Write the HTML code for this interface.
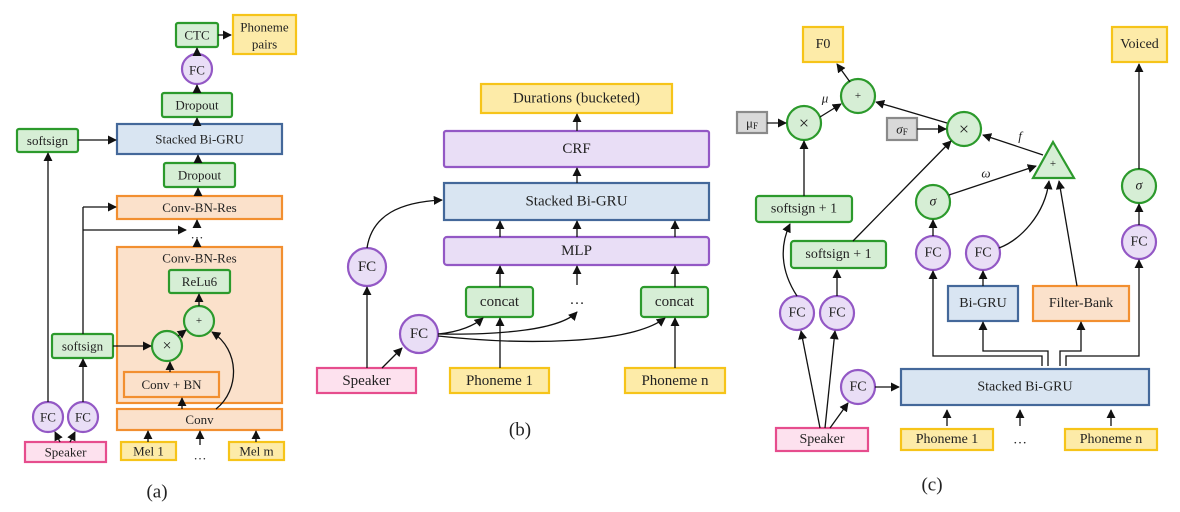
<!DOCTYPE html>
<html><head><meta charset="utf-8"><style>
html,body{margin:0;padding:0;background:#fff;}
svg{display:block;font-family:"Liberation Serif",serif;}
text{fill:#222;text-anchor:middle;dominant-baseline:central;}
.g{fill:#d6eed5;stroke:#2c9a2c;stroke-width:2.2}
.y{fill:#fdeba8;stroke:#f6c419;stroke-width:2.2}
.b{fill:#d9e5f2;stroke:#44689a;stroke-width:2.2}
.o{fill:#fbe1cb;stroke:#f28f30;stroke-width:2.2}
.p{fill:#e9def6;stroke:#9358c5;stroke-width:2.2}
.k{fill:#fde1ee;stroke:#e64d8d;stroke-width:2.2}
.s{fill:#d9d9d9;stroke:#8a8a8a;stroke-width:2.2}
.l{fill:none;stroke:#111;stroke-width:1.3;marker-end:url(#a)}
.n{fill:none;stroke:#111;stroke-width:1.3}
</style></head><body>
<svg width="1180" height="512" viewBox="0 0 1180 512">
<defs><marker id="a" viewBox="0 0 10 10" refX="9" refY="5" markerWidth="7" markerHeight="7" orient="auto-start-reverse"><path d="M0,0 L10,5 L0,10 z" fill="#111"/></marker></defs>

<!-- (a) -->
<g font-size="13">
<rect class="g" x="176" y="23" width="42" height="24" rx="2"/><text x="197" y="35">CTC</text>
<rect class="y" x="233" y="15" width="63" height="39"/><text x="264.5" y="27">Phoneme</text><text x="264.5" y="44">pairs</text>
<circle class="p" cx="197" cy="69" r="15"/><text x="197" y="70">FC</text>
<rect class="g" x="162" y="93" width="70" height="24" rx="2"/><text x="197" y="105">Dropout</text>
<rect class="g" x="17" y="129" width="61" height="23" rx="2"/><text x="47.5" y="140.5">softsign</text>
<rect class="b" x="117" y="124" width="165" height="30"/><text x="199.5" y="139">Stacked Bi-GRU</text>
<rect class="g" x="164" y="163" width="71" height="24" rx="2"/><text x="199.5" y="175">Dropout</text>
<rect class="o" x="117" y="196" width="165" height="23"/><text x="199.5" y="207.5">Conv-BN-Res</text>
<text x="197" y="234">…</text>
<rect class="o" x="117" y="247" width="165" height="156"/><text x="199.5" y="258">Conv-BN-Res</text>
<rect class="g" x="169" y="270" width="61" height="23" rx="2"/><text x="199.5" y="281.5">ReLu6</text>
<circle class="g" cx="199" cy="321" r="15"/><text x="199" y="321" font-size="11">+</text>
<circle class="g" cx="167" cy="346" r="15"/><text x="167" y="346" font-size="16">×</text>
<rect class="o" x="124" y="372" width="95" height="25"/><text x="171.5" y="384.5">Conv + BN</text>
<rect class="o" x="117" y="409" width="165" height="21"/><text x="199.5" y="419.5">Conv</text>
<rect class="g" x="52" y="334" width="61" height="24" rx="2"/><text x="82.5" y="346">softsign</text>
<circle class="p" cx="48" cy="417" r="15"/><text x="48" y="417">FC</text>
<circle class="p" cx="83" cy="417" r="15"/><text x="83" y="417">FC</text>
<rect class="k" x="25" y="442" width="81" height="20"/><text x="65.5" y="452">Speaker</text>
<rect class="y" x="121" y="442" width="55" height="18"/><text x="148.5" y="451">Mel 1</text>
<rect class="y" x="229" y="442" width="55" height="18"/><text x="256.5" y="451">Mel m</text>
<text x="200" y="455">…</text>
<text x="157" y="492" font-size="19">(a)</text>
</g>
<path class="l" d="M218,35 H231"/>
<path class="l" d="M197,54 V48"/>
<path class="l" d="M197,93 V85"/>
<path class="l" d="M197,124 V118"/>
<path class="l" d="M78,140 H116"/>
<path class="l" d="M198,163 V155"/>
<path class="l" d="M198,196 V188"/>
<path class="l" d="M197,244 V239"/>
<path class="l" d="M197,228 V220"/>
<path class="n" d="M83,334 V207"/><path class="l" d="M83,207 H116"/>
<path class="l" d="M83,230 H186"/>
<path class="l" d="M113,346 H151"/>
<path class="l" d="M170,372 V362"/>
<path class="l" d="M178,336 L186,330"/>
<path class="l" d="M199,306 V294"/>
<path class="l" d="M182,409 L182,398"/>
<path class="l" d="M216,409 C240,390 240,350 212,332"/>
<path class="l" d="M48,402 V153"/>
<path class="l" d="M83,402 V359"/>
<path class="l" d="M60,442 L55,432"/><path class="l" d="M70,442 L75,432"/>
<path class="l" d="M148,442 V431"/><path class="l" d="M200,445 V431"/><path class="l" d="M256,442 V431"/>

<!-- (b) -->
<g font-size="15">
<rect class="y" x="481" y="84" width="191" height="29"/><text x="576.5" y="98.5">Durations (bucketed)</text>
<rect class="p" x="444" y="131" width="265" height="36" rx="2"/><text x="576.5" y="149">CRF</text>
<rect class="b" x="444" y="183" width="265" height="37"/><text x="576.5" y="201.5">Stacked Bi-GRU</text>
<rect class="p" x="444" y="237" width="265" height="28" rx="3"/><text x="576.5" y="251">MLP</text>
<rect class="g" x="466" y="287" width="67" height="30" rx="3"/><text x="499.5" y="302">concat</text>
<rect class="g" x="641" y="287" width="67" height="30" rx="3"/><text x="674.5" y="302">concat</text>
<text x="577" y="300">…</text>
<circle class="p" cx="367" cy="267" r="19"/><text x="367" y="267">FC</text>
<circle class="p" cx="419" cy="334" r="19"/><text x="419" y="334">FC</text>
<rect class="k" x="317" y="368" width="99" height="25"/><text x="366.5" y="381">Speaker</text>
<rect class="y" x="450" y="368" width="99" height="25"/><text x="499.5" y="381">Phoneme 1</text>
<rect class="y" x="625" y="368" width="100" height="25"/><text x="675" y="381">Phoneme n</text>
<text x="520" y="430" font-size="19">(b)</text>
</g>
<path class="l" d="M577,131 V114"/>
<path class="l" d="M577,183 V168"/>
<path class="l" d="M500,237 V221"/><path class="l" d="M577,237 V221"/><path class="l" d="M675,237 V221"/>
<path class="l" d="M500,287 V266"/><path class="l" d="M577,285 V266"/><path class="l" d="M675,287 V266"/>
<path class="l" d="M500,368 V318"/><path class="l" d="M675,368 V318"/>
<path class="l" d="M367,368 V287"/>
<path class="l" d="M382,368 L402,348"/>
<path class="l" d="M367,248 C372,215 400,202 442,200"/>
<path class="l" d="M438,334 C460,332 475,325 483,318"/>
<path class="l" d="M438,334 C500,335 560,330 577,312"/>
<path class="l" d="M438,336 C520,345 630,345 665,318"/>

<!-- (c) -->
<g font-size="14">
<rect class="y" x="803" y="27" width="40" height="35"/><text x="823" y="44.5">F0</text>
<rect class="y" x="1112" y="27" width="55" height="35"/><text x="1139.5" y="44.5">Voiced</text>
<circle class="g" cx="858" cy="96" r="17"/><text x="858" y="96" font-size="11">+</text>
<circle class="g" cx="804" cy="123" r="17"/><text x="804" y="123" font-size="18">×</text>
<rect class="s" x="737" y="112" width="30" height="21"/><text x="752" y="123" font-size="13">μ<tspan font-size="9" dy="3">F</tspan></text>
<rect class="s" x="887" y="118" width="30" height="22"/><text x="902" y="129" font-size="13" font-style="italic">σ<tspan font-size="9" dy="3" font-style="normal">F</tspan></text>
<circle class="g" cx="964" cy="129" r="17"/><text x="964" y="129" font-size="18">×</text>
<path class="g" d="M1053,142 L1074,178 L1033,178 Z"/><text x="1053" y="164" font-size="11">+</text>
<circle class="g" cx="933" cy="202" r="17"/><text x="933" y="202" font-style="italic">σ</text>
<circle class="g" cx="1139" cy="186" r="17"/><text x="1139" y="186" font-style="italic">σ</text>
<rect class="g" x="756" y="196" width="96" height="26" rx="3"/><text x="804" y="209">softsign + 1</text>
<rect class="g" x="791" y="241" width="95" height="27" rx="3"/><text x="838.5" y="254.5">softsign + 1</text>
<circle class="p" cx="933" cy="253" r="17"/><text x="933" y="253">FC</text>
<circle class="p" cx="983" cy="253" r="17"/><text x="983" y="253">FC</text>
<circle class="p" cx="1139" cy="242" r="17"/><text x="1139" y="242">FC</text>
<rect class="b" x="948" y="286" width="70" height="35"/><text x="983" y="303.5">Bi-GRU</text>
<rect class="o" x="1033" y="286" width="96" height="35"/><text x="1081" y="303.5">Filter-Bank</text>
<circle class="p" cx="797" cy="313" r="17"/><text x="797" y="313">FC</text>
<circle class="p" cx="837" cy="313" r="17"/><text x="837" y="313">FC</text>
<circle class="p" cx="858" cy="387" r="17"/><text x="858" y="387">FC</text>
<rect class="b" x="901" y="369" width="248" height="36"/><text x="1025" y="387">Stacked Bi-GRU</text>
<rect class="k" x="776" y="428" width="92" height="23"/><text x="822" y="439.5">Speaker</text>
<rect class="y" x="901" y="429" width="92" height="21"/><text x="947" y="439.5">Phoneme 1</text>
<rect class="y" x="1065" y="429" width="92" height="21"/><text x="1111" y="439.5">Phoneme n</text>
<text x="1020" y="440">…</text>
<text x="825" y="98" font-size="13" font-style="italic">μ</text>
<text x="1020" y="136" font-size="13" font-style="italic">f</text>
<text x="986" y="173" font-size="13" font-style="italic">ω</text>
<text x="932" y="485" font-size="19">(c)</text>
</g>
<path class="l" d="M850,82 L837,64"/>
<path class="l" d="M1139,169 V64"/>
<path class="l" d="M820,117 L841,104"/>
<path class="l" d="M767,123 H786"/>
<path class="l" d="M917,129 H946"/>
<path class="l" d="M947,123 L876,102"/>
<path class="l" d="M1043,155 L983,135"/>
<path class="l" d="M949,195 L1036,166"/>
<path class="l" d="M804,196 V141"/>
<path class="l" d="M853,241 L951,141"/>
<path class="l" d="M933,236 V220"/>
<path class="l" d="M1139,225 V204"/>
<path class="l" d="M999,248 C1020,240 1045,215 1049,181"/>
<path class="l" d="M1077,286 L1059,181"/>
<path class="l" d="M983,286 V271"/>
<path class="l" d="M797,296 C780,270 780,245 790,224"/>
<path class="l" d="M837,296 V270"/>
<path class="l" d="M1042,366 V356 H933 V271"/>
<path class="l" d="M1048,366 V351 H983 V322"/>
<path class="l" d="M1060,366 V351 H1081 V322"/>
<path class="l" d="M1066,366 V356 H1139 V260"/>
<path class="l" d="M875,387 H899"/>
<path class="l" d="M830,428 L848,403"/>
<path class="l" d="M820,428 L801,331"/>
<path class="l" d="M825,428 L835,331"/>
<path class="l" d="M947,426 V410"/><path class="l" d="M1020,426 V410"/><path class="l" d="M1111,426 V410"/>
</svg>
</body></html>
